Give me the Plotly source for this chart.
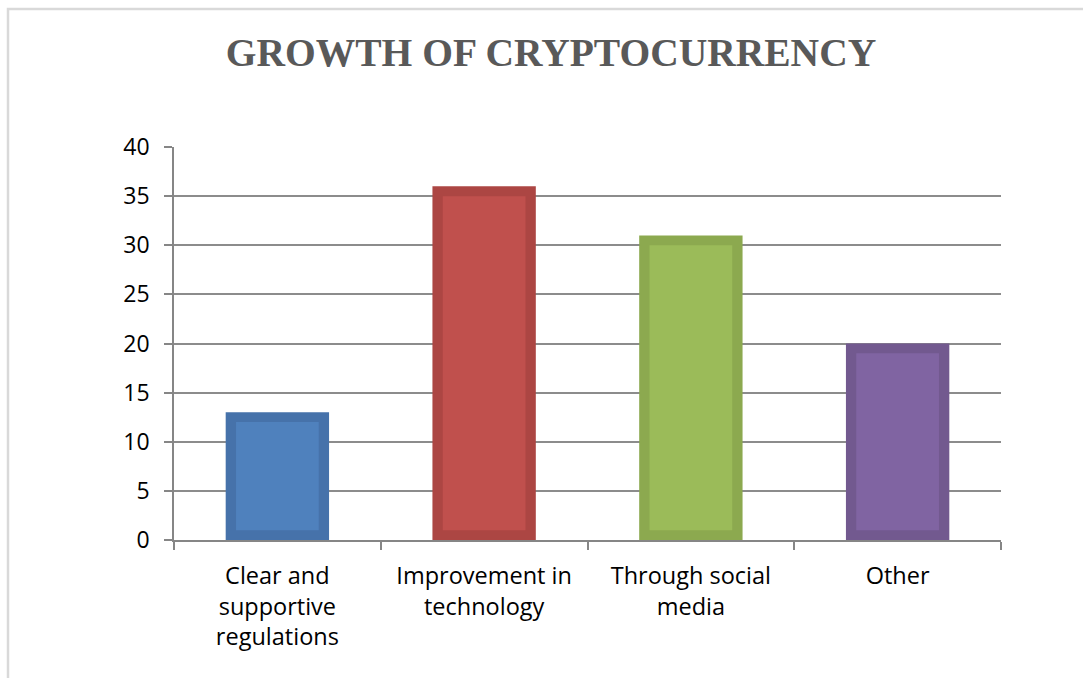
import plotly.graph_objects as go

# Survey responses: what drives the growth of cryptocurrency
categories = [
    "Clear and<br>supportive<br>regulations",
    "Improvement in<br>technology",
    "Through social<br>media",
    "Other",
]
values = [13, 36, 31, 20]

y_ticks = [0, 5, 10, 15, 20, 25, 30, 35, 40]

# Office-style palette: darker rim around a lighter face
edge_colors = ["#4672AA", "#AC4643", "#8CA94F", "#72598F"]
face_colors = ["#4F81BD", "#C0504D", "#9BBB59", "#8064A2"]

RIM = 1.0  # thickness of the darker rim, in axis units

fig = go.Figure()

fig.add_trace(go.Bar(
    x=categories,
    y=values,
    width=0.5,
    marker=dict(color=edge_colors, line=dict(width=0)),
    hoverinfo="x+y",
))

fig.add_trace(go.Bar(
    x=categories,
    y=[v - 2 * RIM for v in values],
    base=RIM,
    width=0.4,
    marker=dict(color=face_colors, line=dict(width=0)),
    hoverinfo="skip",
))

font_family = "Open Sans, Noto Sans, sans-serif"

fig.update_layout(
    width=1083,
    height=678,
    margin=dict(l=174, r=82, t=147, b=138, autoexpand=False),
    paper_bgcolor="white",
    plot_bgcolor="white",
    barmode="overlay",
    showlegend=False,
    title=dict(
        text="<b>GROWTH OF CRYPTOCURRENCY</b>",
        x=551 / 1083,
        xanchor="center",
        y=1 - 52 / 678,
        yanchor="middle",
        font=dict(family="Liberation Serif, Times New Roman, serif", size=39.5, color="#595959"),
    ),
    xaxis=dict(
        type="category",
        range=[-0.5, 3.5],
        showline=True,
        linecolor="#868686",
        linewidth=1.5,
        ticks="outside",
        tickson="boundaries",
        ticklen=8,
        tickwidth=1.5,
        tickcolor="#868686",
        showgrid=False,
        tickfont=dict(family=font_family, size=23.5, color="#000000"),
        ticklabelstandoff=14,
    ),
    yaxis=dict(
        range=[0, 40],
        tickvals=y_ticks,
        showline=True,
        linecolor="#868686",
        linewidth=1.5,
        ticks="outside",
        ticklen=8,
        tickwidth=1.5,
        tickcolor="#868686",
        showgrid=True,
        gridcolor="#8C8C8C",
        gridwidth=1.5,
        zeroline=False,
        tickfont=dict(family=font_family, size=23, color="#000000"),
        ticklabelstandoff=10,
    ),
    shapes=[
        dict(
            type="rect",
            xref="paper",
            yref="paper",
            x0=(8 - 174) / 827,
            x1=(1100 - 174) / 827,
            y0=(540 - 700) / 393,
            y1=(540 - 9) / 393,
            line=dict(color="#D9D9D9", width=2.5),
            fillcolor="rgba(0,0,0,0)",
            layer="below",
        )
    ],
)

fig.write_html("out.html")
